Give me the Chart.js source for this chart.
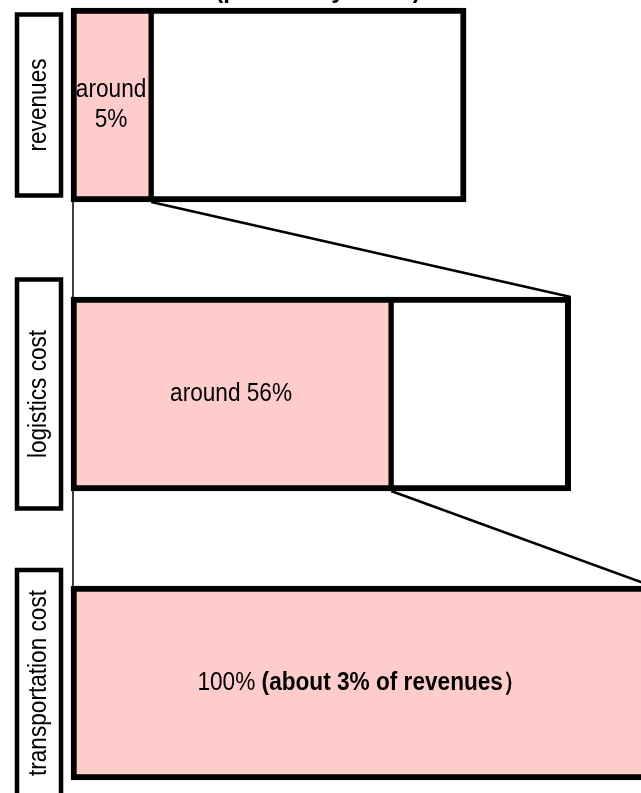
<!DOCTYPE html>
<html>
<head>
<meta charset="utf-8">
<script src="https://cdn.jsdelivr.net/npm/chart.js@4"></script>
<style>
    html, body { margin: 0; padding: 0; background: #fff; overflow: hidden; }
    #wrap { width: 652px; height: 793px; }
</style>
</head>
<body>
<div id="wrap"><canvas id="costChart" width="652" height="793"></canvas></div>
<script>
// rows, top to bottom
const categories = ['revenues', 'logistics cost', 'transportation cost'];
// pink part of each bar (axis runs 0..100)
const shareValues = [13.8, 55.1, 100];
// white remainder after the pink part
const restValues = [54.2, 30.9, null];
// text inside the pink part
const shareNotes = [['around', '5%'], ['around 56%'], ['100% ']];
const shareNotesBold = ['', '', '(about 3% of revenues\uFF09'];
const subtitle = '(percent by value)';

(function () {
    const FONT = "'Liberation Sans', Arial, sans-serif";
    const SQUEEZE = 0.87;
    const labelBoxHeights = [185, 233, 230];

    function drawSqueezed(ctx, text, x, y) {
        ctx.save();
        ctx.translate(x, y);
        ctx.scale(SQUEEZE, 1);
        ctx.fillText(text, 0, 0);
        ctx.restore();
    }

    const funnelPlugin = {
        id: 'funnel',
        beforeDatasetsDraw(chart) {
            const ctx = chart.ctx;
            const pink = chart.getDatasetMeta(0).data;
            const rest = chart.getDatasetMeta(1).data;
            ctx.save();
            ctx.strokeStyle = '#000';
            for (let i = 0; i < pink.length - 1; i++) {
                const a = pink[i];
                const b = pink[i + 1];
                const bottom = a.y + a.height / 2;
                const nextTop = b.y - b.height / 2;
                const nextRight = restValues[i + 1] != null ? rest[i + 1].x : b.x;
                // zoom line from the split to the next bar's right corner
                ctx.lineWidth = 2.5;
                ctx.beginPath();
                ctx.moveTo(a.x, bottom);
                ctx.lineTo(nextRight, nextTop);
                ctx.stroke();
                // left edge line
                ctx.lineWidth = 1.5;
                ctx.beginPath();
                ctx.moveTo(a.base + 2, bottom);
                ctx.lineTo(b.base + 2, nextTop);
                ctx.stroke();
            }
            ctx.restore();
        },
        afterDatasetsDraw(chart) {
            const ctx = chart.ctx;
            const pink = chart.getDatasetMeta(0).data;
            ctx.save();
            ctx.fillStyle = '#000';
            ctx.textAlign = 'left';
            ctx.textBaseline = 'middle';

            // notes inside the pink parts
            pink.forEach((bar, i) => {
                const cx = (bar.base + bar.x) / 2;
                const lines = shareNotes[i];
                const lineH = 30;
                lines.forEach((line, j) => {
                    const y = bar.y + (j - (lines.length - 1) / 2) * lineH;
                    ctx.font = '26px ' + FONT;
                    const w1 = ctx.measureText(line).width * SQUEEZE;
                    let w2 = 0;
                    const bold = j === lines.length - 1 ? shareNotesBold[i] : '';
                    if (bold) {
                        ctx.font = 'bold 26px ' + FONT;
                        w2 = ctx.measureText(bold).width * SQUEEZE;
                    }
                    const x0 = cx - (w1 + w2) / 2;
                    ctx.font = '26px ' + FONT;
                    drawSqueezed(ctx, line, x0, y);
                    if (bold) {
                        ctx.font = 'bold 26px ' + FONT;
                        drawSqueezed(ctx, bold, x0 + w1, y);
                    }
                });
            });

            // category boxes on the left
            const yScale = chart.scales.y;
            ctx.strokeStyle = '#000';
            ctx.lineWidth = 4.5;
            categories.forEach((name, i) => {
                const cy = yScale.getPixelForValue(i);
                const h = labelBoxHeights[i];
                ctx.fillStyle = '#fff';
                ctx.fillRect(17, cy - h / 2 + 2, 44, h - 4);
                ctx.strokeRect(17, cy - h / 2 + 2, 44, h - 4);
                ctx.save();
                ctx.fillStyle = '#000';
                ctx.translate(46, cy);
                ctx.rotate(-Math.PI / 2);
                ctx.scale(SQUEEZE, 1);
                ctx.font = '26px ' + FONT;
                ctx.textAlign = 'center';
                ctx.textBaseline = 'alphabetic';
                ctx.fillText(name, 0, 0);
                ctx.restore();
            });

            // subtitle, mostly above the top edge
            ctx.fillStyle = '#000';
            ctx.font = 'bold 24px ' + FONT;
            ctx.textAlign = 'center';
            ctx.textBaseline = 'alphabetic';
            ctx.fillText(subtitle, 318, -2);
            ctx.restore();
        }
    };

    const canvas = document.getElementById('costChart');
    if (!canvas) return;

    new Chart(canvas.getContext('2d'), {
        type: 'bar',
        data: {
            labels: categories,
            datasets: [{
                label: 'share',
                data: shareValues,
                backgroundColor: '#ffcccc',
                borderColor: '#000',
                borderWidth: { top: 6, bottom: 6, left: 6, right: 3 },
                borderSkipped: false,
                barThickness: 194,
                clip: false
            }, {
                label: 'rest',
                data: restValues,
                backgroundColor: '#ffffff',
                borderColor: '#000',
                borderWidth: { top: 6, bottom: 6, left: 3, right: 6 },
                borderSkipped: false,
                barThickness: 194,
                clip: false
            }]
        },
        options: {
            indexAxis: 'y',
            responsive: false,
            animation: false,
            layout: {
                padding: { left: 71, right: 0, top: 105, bottom: 110 }
            },
            plugins: {
                legend: { display: false },
                title: { display: false },
                tooltip: { enabled: false }
            },
            scales: {
                x: { display: false, stacked: true, min: 0, max: 100 },
                y: { display: false, stacked: true, offset: false }
            }
        },
        plugins: [funnelPlugin]
    });
})();
</script>
</body>
</html>
